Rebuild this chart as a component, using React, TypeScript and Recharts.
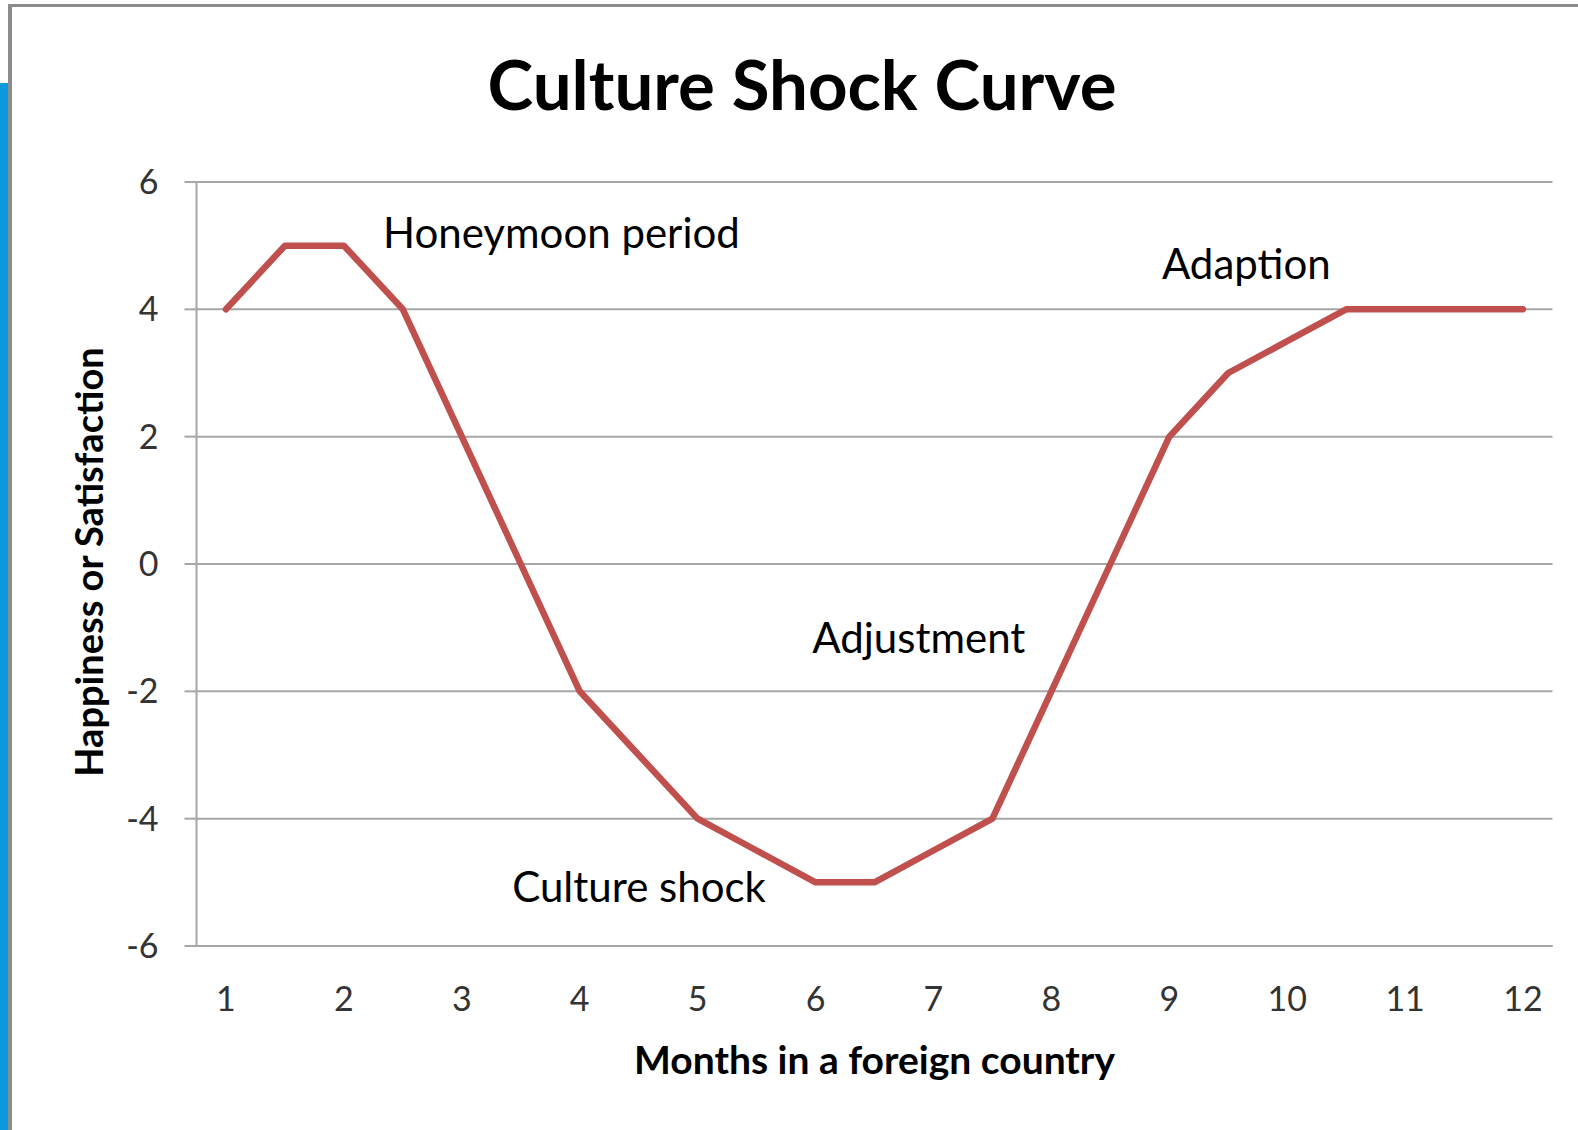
import { LineChart, Line, XAxis, YAxis, CartesianGrid, ReferenceDot } from "recharts";

// half-month steps, as in the original worksheet
const MONTHS = [1, 1.5, 2, 2.5, 3, 3.5, 4, 4.5, 5, 5.5, 6, 6.5, 7, 7.5, 8, 8.5, 9, 9.5, 10, 10.5, 11, 11.5, 12];
const HAPPINESS = [4, 5, 5, 4, 2, 0, -2, -3, -4, -4.5, -5, -5, -4.5, -4, -2, 0, 2, 3, 3.5, 4, 4, 4, 4];

const X_TICKS = [1, 2, 3, 4, 5, 6, 7, 8, 9, 10, 11, 12];
const Y_TICKS = [-6, -4, -2, 0, 2, 4, 6];

// phase labels, anchored in data units
const PHASE_NAMES = ["Honeymoon period", "Adaption", "Adjustment", "Culture shock"];
const PHASE_X = [2.29, 8.895, 5.93, 3.385];
const PHASE_Y = [5.2, 4.71, -1.16, -5.07];

const data = MONTHS.map((m, i) => ({ month: m, value: HAPPINESS[i] }));

const FONT = "Lato, 'Open Sans', sans-serif";
const GRID = "#a6a6a6";
const LINE = "#c0504d";

export default function App() {
  return (
    <div
      style={{
        position: "absolute",
        left: 0,
        top: 0,
        width: 1578,
        height: 1130,
        background: "#fff",
        overflow: "hidden",
        fontFamily: FONT,
      }}
    >
      <div style={{ position: "absolute", left: 0, top: 83, width: 8, height: 1047, background: "#0a99df" }} />
      <div
        style={{
          position: "absolute",
          left: 8,
          top: 4,
          width: 1570,
          height: 1126,
          borderTop: "3px solid #8c8c8c",
          borderLeft: "4px solid #8c8c8c",
          boxSizing: "border-box",
        }}
      />
      <div style={{ position: "absolute", left: 0, top: 0 }}>
        <LineChart
          width={1578}
          height={1130}
          data={data}
          margin={{ top: 182, right: 25.5, bottom: 0, left: 116.5 }}
        >
          <CartesianGrid vertical={false} stroke={GRID} strokeWidth={2} />
          <XAxis
            dataKey="month"
            type="number"
            domain={[0.75, 12.25]}
            ticks={X_TICKS}
            allowDataOverflow
            height={184}
            tickLine={false}
            tickSize={0}
            tickMargin={41}
            axisLine={{ stroke: GRID, strokeWidth: 2 }}
            tick={{ fill: "#333", fontSize: 34, fontFamily: FONT }}
          />
          <YAxis
            type="number"
            domain={[-6, 6]}
            ticks={Y_TICKS}
            width={80}
            tickSize={12}
            tickMargin={26}
            axisLine={{ stroke: GRID, strokeWidth: 2 }}
            tickLine={{ stroke: GRID, strokeWidth: 2 }}
            tick={{ fill: "#333", fontSize: 34, fontFamily: FONT }}
          />
          <Line
            type="linear"
            dataKey="value"
            stroke={LINE}
            strokeWidth={6.5}
            strokeLinecap="round"
            strokeLinejoin="round"
            dot={false}
            activeDot={false}
            isAnimationActive={false}
          />
          {PHASE_NAMES.map((name, i) => (
            <ReferenceDot
              key={name}
              x={PHASE_X[i]}
              y={PHASE_Y[i]}
              r={0}
              ifOverflow="visible"
              label={{
                value: name,
                position: "right",
                fill: "#000",
                fontSize: 42,
                fontFamily: FONT,
              }}
            />
          ))}
        </LineChart>
      </div>
      <svg
        width={1578}
        height={1130}
        style={{ position: "absolute", left: 0, top: 0, pointerEvents: "none" }}
      >
        <text x={802} y={110} textAnchor="middle" fontFamily={FONT} fontWeight={700} fontSize={69} fill="#000">
          Culture Shock Curve
        </text>
        <text x={874.5} y={1074} textAnchor="middle" fontFamily={FONT} fontWeight={700} fontSize={39} fill="#000">
          Months in a foreign country
        </text>
        <text
          transform="translate(103, 562) rotate(-90)"
          textAnchor="middle"
          fontFamily={FONT}
          fontWeight={700}
          fontSize={38}
          fill="#000"
        >
          Happiness or Satisfaction
        </text>
      </svg>
    </div>
  );
}
